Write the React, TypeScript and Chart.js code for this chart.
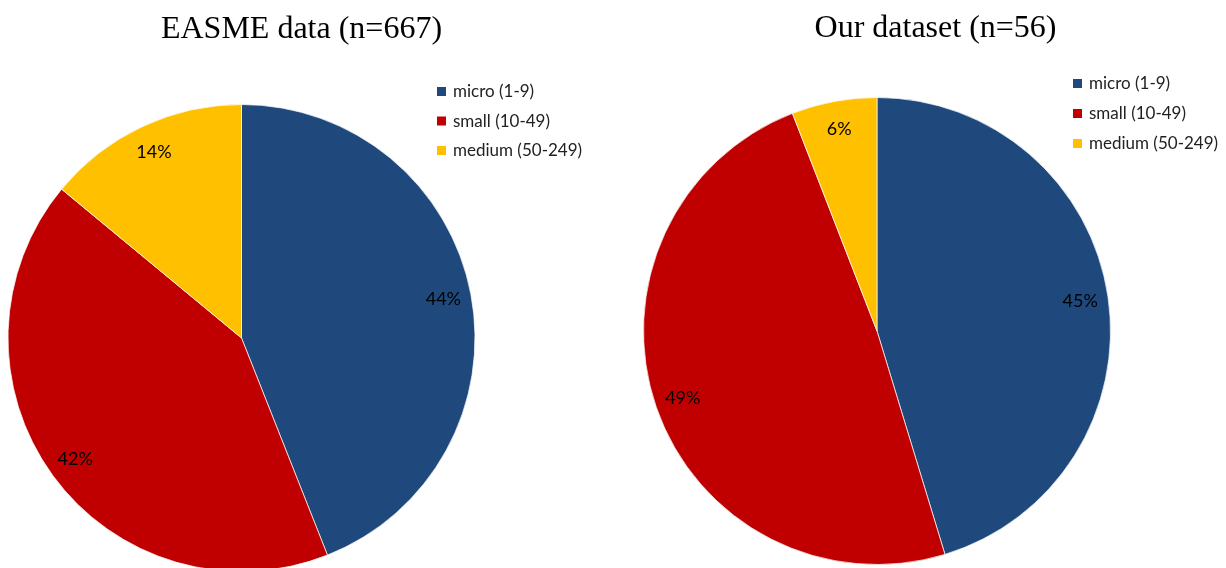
import React, { useEffect, useRef } from 'react';
import { Chart, registerables } from 'chart.js';

Chart.register(...registerables);

const categories = ['micro (1-9)', 'small (10-49)', 'medium (50-249)'];
const easmeValues = [44, 42, 14];
const ourValues = [45.3, 48.8, 5.9];
const easmeTitle = 'EASME data (n=667)';
const ourTitle = 'Our dataset (n=56)';

const sliceColors = ['#1F497D', '#C00000', '#FFC000'];

type Deco = {
  title: string;
  titleX: number;
  titleY: number;
  legendBoxX: number;
  legendTextX: number;
  legendY: number;
  legendStep: number;
  labelFrac: number;
};

const decoPlugin = {
  id: 'deco',
  afterDraw(chart: any, _args: any, opts: Deco) {
    const ctx = chart.ctx as CanvasRenderingContext2D;
    ctx.save();
    // title
    ctx.fillStyle = '#000';
    ctx.font = '32px "Liberation Serif", "Times New Roman", serif';
    ctx.textAlign = 'center';
    ctx.textBaseline = 'alphabetic';
    ctx.fillText(opts.title, opts.titleX, opts.titleY);

    // legend
    const labels: string[] = chart.data.labels;
    const colors: string[] = chart.data.datasets[0].backgroundColor;
    ctx.font = '17px Lato, "Open Sans", sans-serif';
    ctx.textAlign = 'left';
    ctx.textBaseline = 'middle';
    labels.forEach((lab, i) => {
      const cy = opts.legendY + i * opts.legendStep;
      ctx.fillStyle = colors[i];
      ctx.fillRect(opts.legendBoxX, cy - 4.5, 9, 9);
      ctx.fillStyle = '#222';
      ctx.fillText(lab, opts.legendTextX, cy + 0.5);
    });

    // percentage labels
    const meta = chart.getDatasetMeta(0);
    const values: number[] = chart.data.datasets[0].data;
    ctx.font = '18px Lato, "Open Sans", sans-serif';
    ctx.textAlign = 'center';
    ctx.textBaseline = 'middle';
    ctx.fillStyle = '#000';
    meta.data.forEach((arc: any, i: number) => {
      const p = arc.getProps(['x', 'y', 'startAngle', 'endAngle', 'outerRadius'], true);
      const mid = (p.startAngle + p.endAngle) / 2;
      const r = p.outerRadius * opts.labelFrac;
      const x = p.x + Math.cos(mid) * r;
      const y = p.y + Math.sin(mid) * r;
      ctx.fillText(Math.round(values[i]) + '%', x, y);
    });
    ctx.restore();
  },
};

type PieProps = {
  values: number[];
  left: number;
  padding: { left: number; top: number; right: number; bottom: number };
  deco: Deco;
};

function PieChart({ values, left, padding, deco }: PieProps) {
  const ref = useRef<HTMLCanvasElement | null>(null);
  useEffect(() => {
    if (!ref.current) return;
    const chart = new Chart(ref.current, {
      type: 'pie',
      data: {
        labels: categories,
        datasets: [
          {
            data: values,
            backgroundColor: sliceColors,
            borderColor: 'rgba(255,255,255,0.7)',
            borderWidth: 1,
          },
        ],
      },
      options: {
        responsive: false,
        animation: false,
        devicePixelRatio: 1,
        layout: { padding },
        plugins: {
          legend: { display: false },
          title: { display: false },
          tooltip: { enabled: false },
          deco: deco,
        } as any,
      },
      plugins: [decoPlugin],
    });
    return () => chart.destroy();
  }, []);
  return (
    <canvas
      ref={ref}
      width={613}
      height={600}
      style={{ position: 'absolute', left, top: 0, width: 613, height: 600 }}
    />
  );
}

export default function App() {
  return (
    <div
      style={{
        position: 'fixed',
        left: 0,
        top: 0,
        width: 1226,
        height: 568,
        overflow: 'hidden',
        background: '#fff',
      }}
    >
      <PieChart
        values={easmeValues}
        left={0}
        padding={{ left: 7.5, top: 104, right: 137.5, bottom: 28 }}
        deco={{
          title: easmeTitle,
          titleX: 301.5,
          titleY: 38,
          legendBoxX: 437,
          legendTextX: 453,
          legendY: 91.5,
          legendStep: 29.5,
          labelFrac: 0.88,
        }}
      />
      <PieChart
        values={ourValues}
        left={613}
        padding={{ left: 30, top: 97, right: 115, bottom: 35 }}
        deco={{
          title: ourTitle,
          titleX: 322.5,
          titleY: 37,
          legendBoxX: 460,
          legendTextX: 476,
          legendY: 83.5,
          legendStep: 30,
          labelFrac: 0.88,
        }}
      />
    </div>
  );
}
